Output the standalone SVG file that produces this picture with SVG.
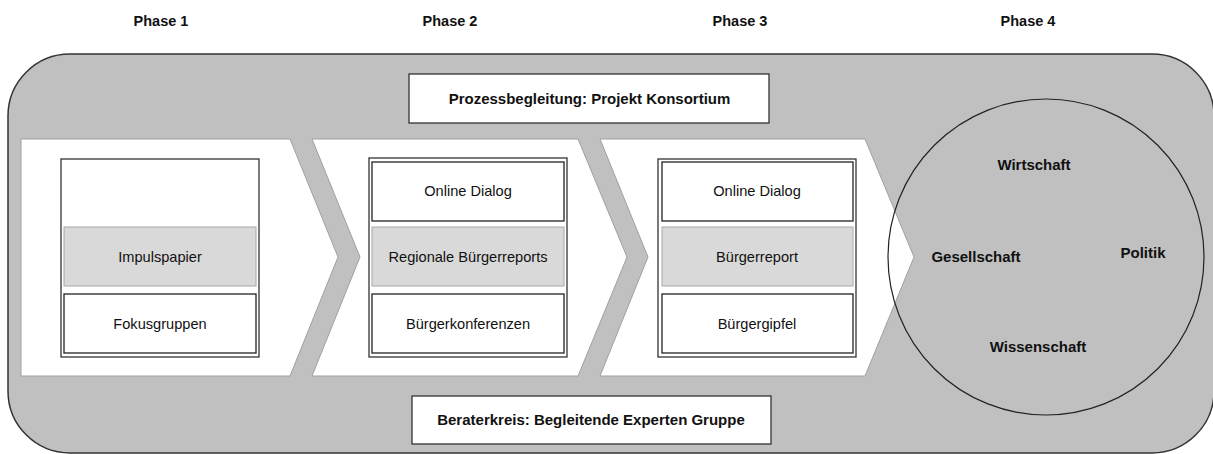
<svg xmlns="http://www.w3.org/2000/svg" width="1213" height="454" viewBox="0 0 1213 454">
<style>
text{font-family:"Liberation Sans",Arial,sans-serif;fill:#111;text-anchor:middle}
.b{font-weight:bold;font-size:15px}
.p{font-weight:bold;font-size:14.5px}
.r{font-size:14.6px}
.chev{fill:#fff;stroke:#a0a0a0;stroke-width:1}
.outer{fill:#fff;stroke:#333;stroke-width:1.3}
.wbox{fill:#fff;stroke:#222;stroke-width:1.3}
.gbox{fill:#d9d9d9;stroke:#a8a8a8;stroke-width:1}
.lbl{fill:#fff;stroke:#333;stroke-width:1.3}
</style>
<rect width="1213" height="454" fill="#fff"/>
<g id="phases">
<text class="p" x="161" y="26">Phase 1</text>
<text class="p" x="450" y="26">Phase 2</text>
<text class="p" x="740" y="26">Phase 3</text>
<text class="p" x="1028" y="26">Phase 4</text>
</g>
<g id="frame">
<rect x="8" y="54" width="1206" height="399" rx="62" ry="62" fill="#c0c0c0" stroke="#333" stroke-width="1.5"/>
</g>
<g id="top-label">
<rect class="lbl" x="409" y="74" width="360" height="49"/>
<text class="b" x="589.5" y="104">Prozessbegleitung: Projekt Konsortium</text>
</g>
<g id="bottom-label">
<rect class="lbl" x="412" y="396" width="359" height="48"/>
<text class="b" x="591" y="425">Beraterkreis: Begleitende Experten Gruppe</text>
</g>
<g id="phase1">
<polygon class="chev" points="21,139 290,139 338,257 290,376 21,376"/>
<rect class="outer" x="61" y="159" width="198" height="198"/>
<rect class="gbox" x="64" y="227" width="192" height="59"/>
<text class="r" x="160" y="262">Impulspapier</text>
<rect class="wbox" x="64" y="294" width="192" height="59"/>
<text class="r" x="160" y="329">Fokusgruppen</text>
</g>
<g id="phase2">
<polygon class="chev" points="312,139 578,139 627,257 578,376 312,376 360,257"/>
<rect class="outer" x="369" y="158" width="198" height="199"/>
<rect class="wbox" x="372" y="162" width="192" height="59"/>
<text class="r" x="468" y="196">Online Dialog</text>
<rect class="gbox" x="372" y="227" width="192" height="59"/>
<text class="r" x="468" y="262">Regionale Bürgerreports</text>
<rect class="wbox" x="372" y="294" width="192" height="59"/>
<text class="r" x="468" y="329">Bürgerkonferenzen</text>
</g>
<g id="phase3">
<polygon class="chev" points="600,139 865,139 914,257 865,376 600,376 648,257"/>
<rect class="outer" x="658" y="159" width="198" height="198"/>
<rect class="wbox" x="662" y="162" width="191" height="59"/>
<text class="r" x="757" y="196">Online Dialog</text>
<rect class="gbox" x="662" y="227" width="191" height="59"/>
<text class="r" x="757" y="262">Bürgerreport</text>
<rect class="wbox" x="662" y="294" width="191" height="59"/>
<text class="r" x="757" y="329">Bürgergipfel</text>
</g>
<g id="phase4">
<circle cx="1046" cy="257" r="158" fill="none" stroke="#222" stroke-width="1.2"/>
<text class="b" x="1034" y="170">Wirtschaft</text>
<text class="b" x="976" y="262">Gesellschaft</text>
<text class="b" x="1143" y="258">Politik</text>
<text class="b" x="1038" y="352">Wissenschaft</text>
</g>
</svg>
